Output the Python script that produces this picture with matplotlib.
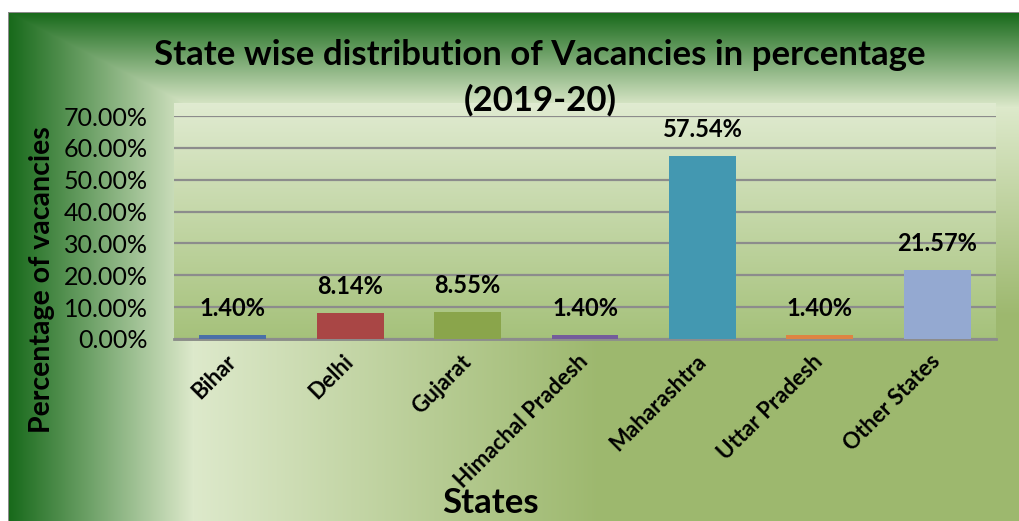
import numpy as np
import matplotlib
matplotlib.use("Agg")
import matplotlib.pyplot as plt
from matplotlib.colors import to_rgb

states = ["Bihar", "Delhi", "Gujarat", "Himachal Pradesh", "Maharashtra",
          "Uttar Pradesh", "Other States"]
shares = [1.40, 8.14, 8.55, 1.40, 57.54, 1.40, 21.57]          # percent
bar_colors = ["#4a6fa8", "#a94645", "#8aa54b", "#745c9b", "#4398b1",
              "#dd8443", "#94a9d1"]
y_ticks = [0, 10, 20, 30, 40, 50, 60, 70]

plt.rcParams["font.family"] = ["Lato", "DejaVu Sans"]

W, H = 1019, 521
fig = plt.figure(figsize=(W / 100, H / 100), dpi=100)
ax = fig.add_axes([174 / W, 1 - 339 / H, (996 - 174) / W, (339 - 116) / H])
ax.set_zorder(2)


def background():
    """Excel-like path gradient for the chart area plus a lighter plot area"""
    dark = np.array(to_rgb("#17691a"))
    light = np.array(to_rgb("#dde9cb"))
    mid = np.array(to_rgb("#9db86e"))
    yy, xx = np.mgrid[0:H, 0:W].astype(float)
    d = np.minimum((xx - 8) / 185.0, (yy - 12) / 95.0)
    img = np.empty((H, W, 3))
    t1 = np.clip(d, 0, 1)[..., None]
    t2 = np.clip((d - 1) / 2.2, 0, 1)[..., None]
    img[:] = dark + (light - dark) * t1
    img = np.where((d > 1)[..., None], light + (mid - light) * t2, img)

    # plot area fill (vertical gradient)
    top_c = np.array(to_rgb("#e0ebd1"))
    bot_c = np.array(to_rgb("#a5c17a"))
    x0, x1, y0, y1 = 174, 996, 103, 341
    tv = np.linspace(0, 1, y1 - y0)[:, None, None]
    img[y0:y1, x0:x1] = top_c + (bot_c - top_c) * tv

    # white margin and thin grey border
    img[:12, :] = 1.0
    img[:, :8] = 1.0
    img[12, 8:] = to_rgb("#8c8c8c")
    img[12:, 8] = to_rgb("#8c8c8c")
    return img


fig.figimage(background(), 0, 0, origin="upper", zorder=0)

x = np.arange(len(states))
ax.set_facecolor("none")
ax.bar(x, shares, width=0.57, color=bar_colors, zorder=3)
for xi, v in zip(x, shares):
    ax.annotate(f"{v:.2f}%", (xi, v), xytext=(0, 19), textcoords="offset points",
                ha="center", va="center", fontsize=17, fontweight="bold")

ax.set_xlim(-0.5, len(states) - 0.5)
ax.set_ylim(0, 70)
ax.set_yticks(y_ticks)
ax.set_yticklabels([f"{t:.2f}%" for t in y_ticks], fontsize=18)
ax.set_xticks(x)
ax.set_xticklabels(states, rotation=45, ha="right", va="center",
                   rotation_mode="anchor", fontsize=16, fontweight="bold")
ax.tick_params(length=0)
ax.tick_params(axis="y", pad=19)
ax.tick_params(axis="x", pad=14)
ax.grid(axis="y", color="#8c8c8c", linewidth=1.6, zorder=1)
ax.set_axisbelow(True)
for s in ["top", "right", "left"]:
    ax.spines[s].set_visible(False)
ax.spines["bottom"].set_color("#8c8c8c")
ax.spines["bottom"].set_linewidth(2)

fig.text(540 / W, 1 - 55 / H, "State wise distribution of Vacancies in percentage",
         ha="center", va="center", fontsize=25, fontweight="bold")
fig.text(540 / W, 1 - 100 / H, "(2019-20)", ha="center", va="center",
         fontsize=25, fontweight="bold")
fig.text(42 / W, 1 - 280 / H, "Percentage of vacancies", rotation=90,
         ha="center", va="center", fontsize=20.5, fontweight="bold")
fig.text(490 / W, 1 - 503 / H, "States", ha="center", va="center",
         fontsize=25, fontweight="bold")

fig.savefig("out.png", dpi=100)
